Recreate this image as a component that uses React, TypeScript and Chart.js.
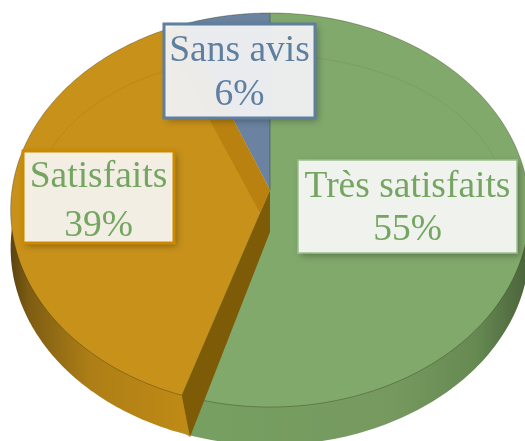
import React, { useEffect, useRef } from "react";
import { Chart, registerables } from "chart.js";

Chart.register(...registerables);

const categories = ["Très satisfaits", "Satisfaits", "Sans avis"];
const percentages = [55, 39, 6];
const faceColors = ["#82a96c", "#c8911a", "#6b83a0"];
const textColors = ["#74a561", "#74a561", "#5f7f9f"];
const borderColors = ["#9cc08c", "#cc8a00", "#5f7f9f"];
const fillColors = ["rgba(244,246,243,0.97)", "rgba(247,243,234,0.97)", "rgba(243,244,246,0.94)"];
const boxes = [
  { x: 298, y: 160, w: 219, h: 93, line: 1.5, b1: 197, b2: 240 },
  { x: 23, y: 151, w: 151, h: 92, line: 3, b1: 187, b2: 236 },
  { x: 164, y: 24, w: 151, h: 94, line: 3, b1: 61, b2: 105 },
];

const APEX = { x: 270, y: 190 };
const K = -0.1015;
const A = 258;
const B = 195;
const DEPTH = 38;
const FONT = '37.5px "Liberation Serif"';

function proj(theta: number, t = 1, dy = 0) {
  const u = Math.sin(theta) * t;
  const v = -Math.cos(theta) * t;
  const d = 1 + K * v;
  return { x: APEX.x + (A * u) / d, y: APEX.y + (B * v) / d + dy };
}

function sectorPath(ctx: CanvasRenderingContext2D, a0: number, a1: number, dy = 0) {
  ctx.beginPath();
  ctx.moveTo(APEX.x, APEX.y + dy);
  const n = 160;
  for (let i = 0; i <= n; i++) {
    const p = proj(a0 + ((a1 - a0) * i) / n, 1, dy);
    ctx.lineTo(p.x, p.y);
  }
  ctx.closePath();
}

function poly(ctx: CanvasRenderingContext2D, pts: { x: number; y: number }[], fill: any) {
  ctx.beginPath();
  pts.forEach((p, i) => (i ? ctx.lineTo(p.x, p.y) : ctx.moveTo(p.x, p.y)));
  ctx.closePath();
  ctx.fillStyle = fill;
  ctx.fill();
}

const piePlugin = {
  id: "tiltedPie",
  beforeDatasetsDraw(chart: any) {
    const ctx: CanvasRenderingContext2D = chart.ctx;
    const arcs = chart.getDatasetMeta(0).data as any[];
    const angle = (i: number) => ({
      a0: arcs[i].startAngle + Math.PI / 2,
      a1: arcs[i].endAngle + Math.PI / 2,
    });
    ctx.save();

    const gOrange = ctx.createLinearGradient(10, 0, 190, 0);
    gOrange.addColorStop(0, "#5a4210");
    gOrange.addColorStop(0.1, "#7d5c12");
    gOrange.addColorStop(0.45, "#ae7f17");
    gOrange.addColorStop(1, "#c08b15");
    const gGreen = ctx.createLinearGradient(190, 0, 525, 0);
    gGreen.addColorStop(0, "#76a062");
    gGreen.addColorStop(0.6, "#76995f");
    gGreen.addColorStop(0.85, "#678a53");
    gGreen.addColorStop(1, "#4c663c");

    // outer walls
    const g = angle(0);
    const o = angle(1);
    sectorPath(ctx, g.a0, g.a1, DEPTH);
    ctx.fillStyle = gGreen;
    ctx.fill();
    sectorPath(ctx, o.a0, o.a1, DEPTH);
    ctx.fillStyle = gOrange;
    ctx.fill();

    // top faces
    [2, 1, 0].forEach((i) => {
      const { a0, a1 } = angle(i);
      sectorPath(ctx, a0, a1);
      ctx.fillStyle = faceColors[i];
      ctx.fill();
    });

    // rim line
    ctx.beginPath();
    for (let i = 0; i <= 360; i++) {
      const p = proj((i * Math.PI) / 180);
      i ? ctx.lineTo(p.x, p.y) : ctx.moveTo(p.x, p.y);
    }
    ctx.closePath();
    ctx.lineWidth = 1;
    ctx.strokeStyle = "rgba(50,50,20,0.35)";
    ctx.stroke();

    // bevel line
    ctx.beginPath();
    ctx.ellipse(270, 205, 236, 150, 0, Math.PI * 1.08, Math.PI * 1.92);
    ctx.strokeStyle = "rgba(60,60,0,0.1)";
    ctx.stroke();

    // cut walls
    const rimFront = proj(g.a1);
    const corner = { x: 190, y: 437 };
    poly(ctx, [rimFront, { x: rimFront.x, y: rimFront.y + DEPTH - 2 }, corner], gOrange);
    poly(ctx, [APEX, { x: 270, y: 232 }, corner, rimFront], "#7e5c07");
    const rimBack = proj(o.a1);
    poly(
      ctx,
      [APEX, { x: 260, y: 213 }, { x: rimBack.x - 20, y: rimBack.y + 10 }, rimBack],
      "#b98210"
    );
    // blue / green seam
    ctx.beginPath();
    ctx.moveTo(270, 13);
    ctx.lineTo(270, 190);
    ctx.strokeStyle = "rgba(60,80,100,0.6)";
    ctx.stroke();
    ctx.restore();
    return false;
  },
  afterDraw(chart: any) {
    const ctx: CanvasRenderingContext2D = chart.ctx;
    ctx.save();
    categories.forEach((label, i) => {
      const b = boxes[i];
      ctx.save();
      ctx.shadowColor = "rgba(0,0,0,0.3)";
      ctx.shadowBlur = 7;
      ctx.shadowOffsetX = 3;
      ctx.shadowOffsetY = 3;
      ctx.fillStyle = fillColors[i];
      ctx.fillRect(b.x, b.y, b.w, b.h);
      ctx.restore();
      ctx.lineWidth = b.line;
      ctx.strokeStyle = borderColors[i];
      ctx.strokeRect(b.x, b.y, b.w, b.h);
      ctx.font = FONT;
      ctx.textAlign = "center";
      ctx.textBaseline = "alphabetic";
      ctx.fillStyle = textColors[i];
      ctx.fillText(label, b.x + b.w / 2, b.b1);
      ctx.fillText(`${percentages[i]}%`, b.x + b.w / 2, b.b2);
    });
    ctx.restore();
  },
};

export default function App() {
  const ref = useRef<HTMLCanvasElement>(null);
  useEffect(() => {
    const chart = new Chart(ref.current!, {
      type: "pie",
      data: {
        labels: categories,
        datasets: [{ data: percentages, backgroundColor: faceColors, borderWidth: 0 }],
      },
      options: {
        responsive: false,
        animation: false,
        events: [],
        plugins: { legend: { display: false }, tooltip: { enabled: false } },
      },
      plugins: [piePlugin as any],
    });
    return () => chart.destroy();
  }, []);
  return (
    <div style={{ position: "fixed", left: 0, top: 0, width: 525, height: 441, background: "#fff", overflow: "hidden" }}>
      <canvas ref={ref} width={525} height={441} style={{ display: "block" }} />
    </div>
  );
}
